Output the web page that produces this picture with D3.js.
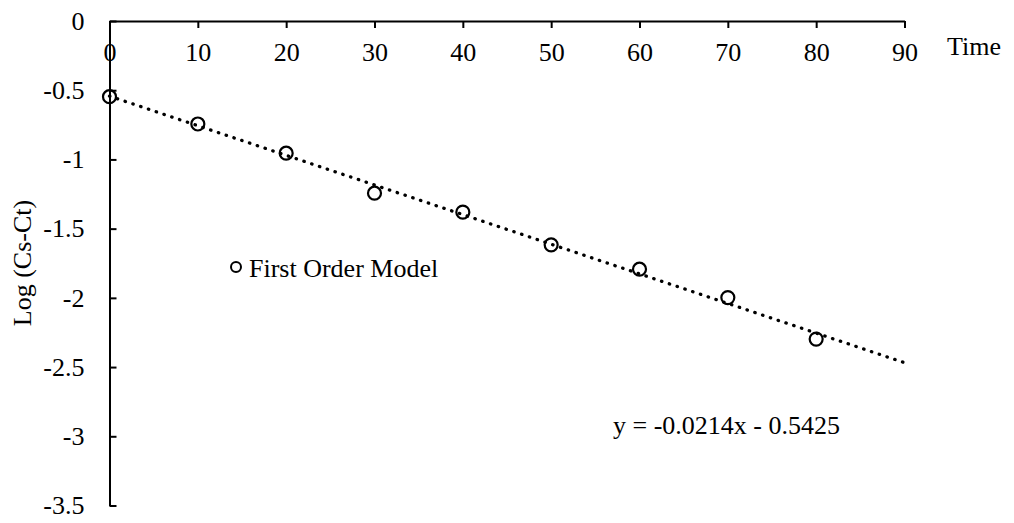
<!DOCTYPE html>
<html>
<head>
<meta charset="utf-8">
<script src="https://cdn.jsdelivr.net/npm/d3@7"></script>
<style>
  html, body { margin: 0; padding: 0; background: #fff; }
  svg { display: block; font-family: "Liberation Serif", "Times New Roman", serif; }
</style>
</head>
<body>
<svg id="chart" width="1014" height="523"></svg>
<script>
// Sampling times and measured log(Cs - Ct)
const times = [0, 10, 20, 30, 40, 50, 60, 70, 80];
const logValues = [-0.547, -0.744, -0.955, -1.244, -1.381, -1.617, -1.793, -1.998, -2.298];

// Linear fit y = slope * x + intercept
const fitSlope = -0.0214;
const fitIntercept = -0.5425;
const fitRange = [0, 90];

const xTicks = [0, 10, 20, 30, 40, 50, 60, 70, 80, 90];
const yTicks = [0, -0.5, -1, -1.5, -2, -2.5, -3, -3.5];
const seriesName = "First Order Model";
const xTitle = "Time";
const yTitle = "Log (Cs-Ct)";

const svg = d3.select("#chart");
const FS = 26;

const x = d3.scaleLinear().domain([0, 90]).range([109.5, 904.5]);
const y = d3.scaleLinear().domain([0, -3.5]).range([21, 505.5]);

// Horizontal axis along y = 0, ticks pointing down, labels beneath
const xAxis = d3.axisBottom(x)
  .tickValues(xTicks)
  .tickFormat(d3.format("d"))
  .tickSizeInner(7)
  .tickSizeOuter(0)
  .tickPadding(15);

const gx = svg.append("g")
  .attr("transform", `translate(0,${y(0)})`)
  .call(xAxis);

// Vertical axis at x = 0, ticks pointing right, labels on the left
const yAxis = d3.axisLeft(y)
  .tickValues(yTicks)
  .tickFormat(d => String(d))
  .tickSizeInner(-7)
  .tickSizeOuter(0)
  .tickPadding(25);

const gy = svg.append("g")
  .attr("transform", `translate(${x(0)},0)`)
  .call(yAxis);

[gx, gy].forEach(g => {
  g.selectAll("path.domain").attr("stroke", "#000").attr("stroke-width", 2);
  g.selectAll(".tick line").attr("stroke", "#000").attr("stroke-width", 2);
  g.selectAll(".tick text")
    .attr("fill", "#000")
    .style("font-family", '"Liberation Serif", "Times New Roman", serif')
    .style("font-size", FS + "px");
});

// Axis titles
svg.append("text")
  .attr("x", 947)
  .attr("y", 55)
  .attr("font-size", FS)
  .attr("fill", "#000")
  .text(xTitle);

svg.append("text")
  .attr("transform", `translate(31,263) rotate(-90)`)
  .attr("text-anchor", "middle")
  .attr("font-size", FS)
  .attr("fill", "#000")
  .text(yTitle);

// Dotted linear trendline
const fitPoints = fitRange.map(t => [t, fitSlope * t + fitIntercept]);
svg.append("path")
  .datum(fitPoints)
  .attr("d", d3.line().x(d => x(d[0])).y(d => y(d[1])))
  .attr("fill", "none")
  .attr("stroke", "#000")
  .attr("stroke-width", 3.3)
  .attr("stroke-linecap", "round")
  .attr("stroke-dasharray", "0.4 7.8");

// Observed points as open circles
svg.append("g")
  .selectAll("circle")
  .data(times.map((t, i) => [t, logValues[i]]))
  .join("circle")
  .attr("cx", d => x(d[0]))
  .attr("cy", d => y(d[1]))
  .attr("r", 6.5)
  .attr("fill", "none")
  .attr("stroke", "#000")
  .attr("stroke-width", 2.2);

// Legend entry
svg.append("circle")
  .attr("cx", 236)
  .attr("cy", 267)
  .attr("r", 5)
  .attr("fill", "none")
  .attr("stroke", "#000")
  .attr("stroke-width", 2);

svg.append("text")
  .attr("x", 249)
  .attr("y", 277)
  .attr("font-size", FS)
  .attr("fill", "#000")
  .text(seriesName);

// Fit equation
const fmt4 = d3.format(".4f");
const eqText = `y = ${fmt4(fitSlope).replace("−", "-")}x ${fitIntercept < 0 ? "-" : "+"} ${fmt4(Math.abs(fitIntercept))}`;
svg.append("text")
  .attr("x", 613)
  .attr("y", 434)
  .attr("font-size", FS)
  .attr("fill", "#000")
  .text(eqText);
</script>
</body>
</html>
